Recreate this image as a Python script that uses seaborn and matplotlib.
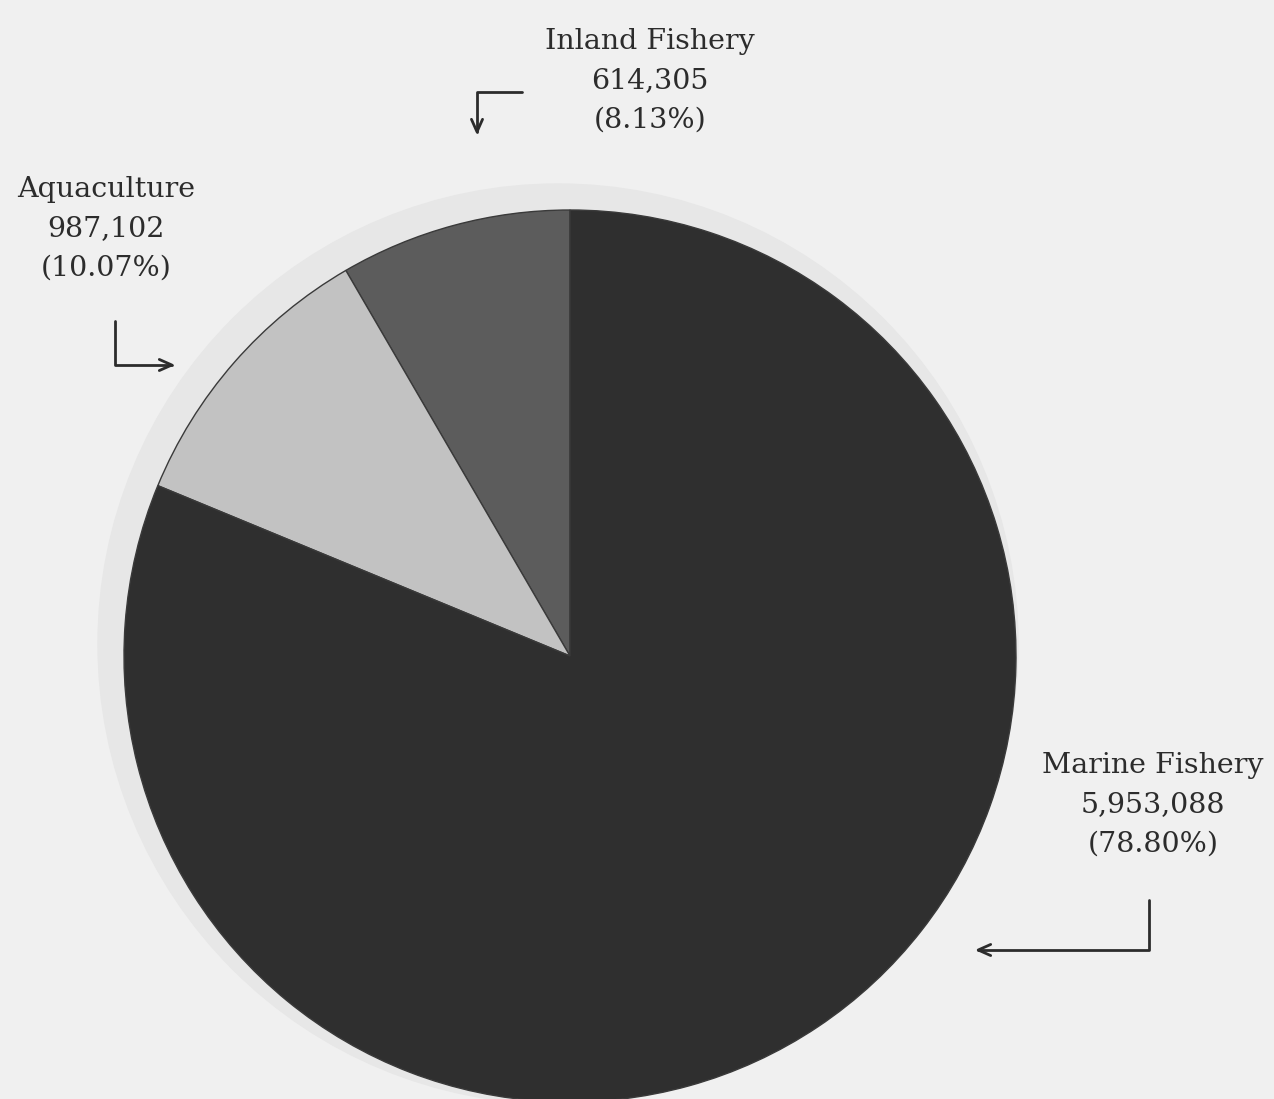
import numpy as np
import seaborn as sns
import matplotlib.pyplot as plt
from matplotlib.patches import Circle

# data
categories = ["Inland Fishery", "Aquaculture", "Marine Fishery"]
values = ["614,305", "987,102", "5,953,088"]
pct_labels = ["(8.13%)", "(10.07%)", "(78.80%)"]
pct_values = [8.13, 10.07, 78.80]   # wedges drawn from the printed shares

sns.set_style("white")
plt.rcParams['font.family'] = ['DejaVu Serif', 'Liberation Serif']

colors = ["#5c5c5c", "#c2c2c2", "#2f2f2f"]

W, H = 1274, 1099
fig = plt.figure(figsize=(W / 100, H / 100), dpi=100, facecolor="#f0f0f0")
ax = fig.add_axes([0, 0, 1, 1])
ax.set_facecolor("#f0f0f0")

cx, cy, r = 570, H - 656, 446

# faint halo from the printed page
ax.add_patch(Circle((cx - 12, cy + 12), r + 14, color="#e7e7e7", zorder=0))

ax.pie(pct_values, colors=colors, startangle=90, counterclock=True,
       center=(cx, cy), radius=r, frame=True,
       wedgeprops=dict(edgecolor="#3a3a3a", linewidth=1.0))
ax.set_xlim(0, W)
ax.set_ylim(0, H)
ax.set_aspect("equal")
ax.axis("off")

txt = dict(ha="center", va="center", fontsize=20.5, color="#2c2c2c", linespacing=1.6)
pos = [(650, H - 81), (106, H - 229), (1153, H - 805)]
for (x, y), c, v, p in zip(pos, categories, values, pct_labels):
    ax.text(x, y, f"{c}\n{v}\n{p}", **txt)

arrow = dict(arrowstyle="->,head_length=0.9,head_width=0.4", color="#2c2c2c", lw=2.0)
# Inland: left then down
ax.annotate("", xy=(477, H - 138), xytext=(525, H - 92),
            arrowprops=dict(connectionstyle="angle,angleA=180,angleB=90,rad=0", **arrow))
# Aquaculture: down then right
ax.annotate("", xy=(178, H - 365), xytext=(115, H - 318),
            arrowprops=dict(connectionstyle="angle,angleA=-90,angleB=0,rad=0", **arrow))
# Marine: down then left
ax.annotate("", xy=(972, H - 950), xytext=(1149, H - 897),
            arrowprops=dict(connectionstyle="angle,angleA=-90,angleB=0,rad=0", **arrow))

fig.savefig("out.png", dpi=100, facecolor=fig.get_facecolor())
